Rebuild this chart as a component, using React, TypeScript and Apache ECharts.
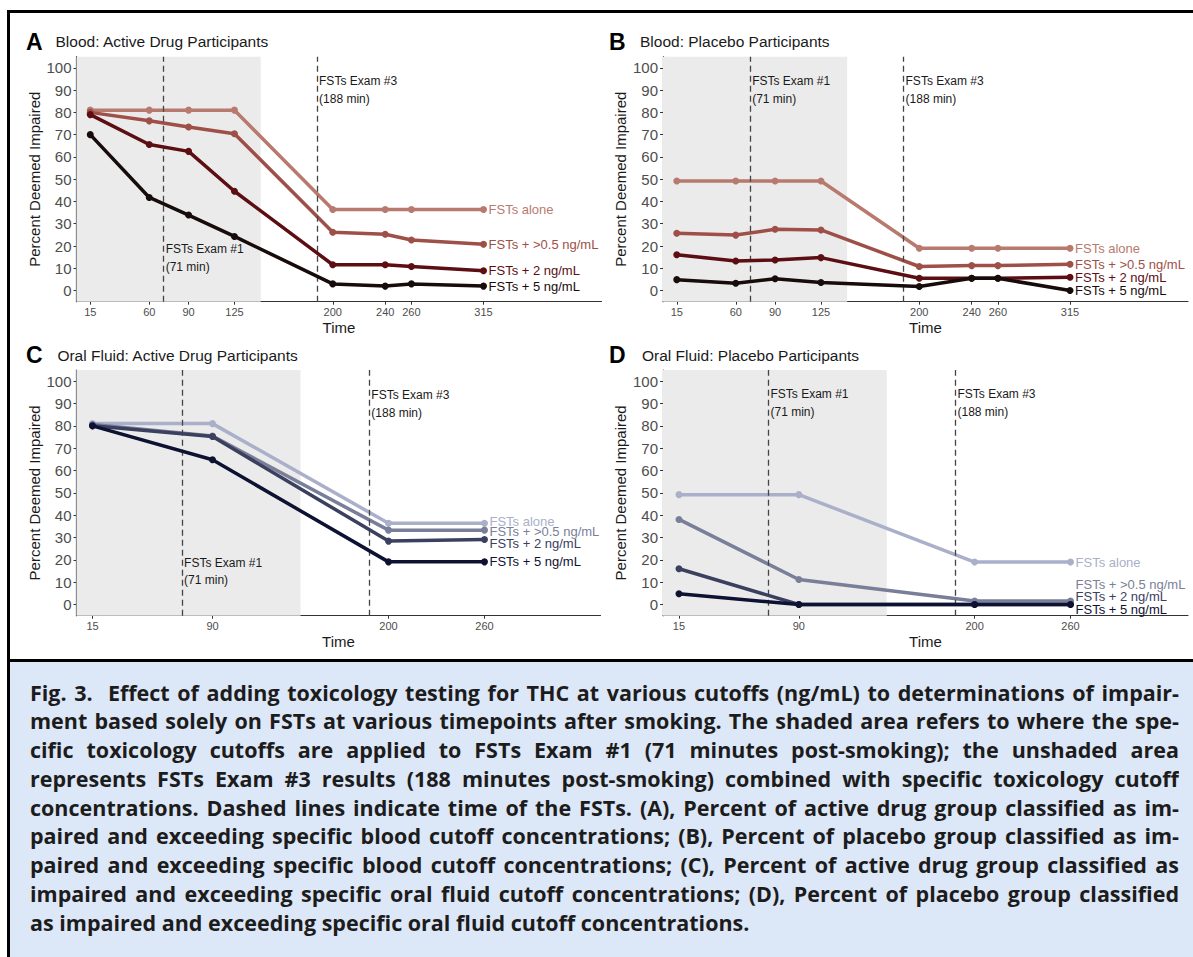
import React, { useEffect, useRef } from 'react';
import * as echarts from 'echarts';

// ---------- data ----------
const timesBlood = [15, 60, 90, 125, 200, 240, 260, 315];
const timesOral = [15, 90, 200, 260];
const yTicks = [0, 10, 20, 30, 40, 50, 60, 70, 80, 90, 100];
const cutoffNames = ['FSTs alone', 'FSTs + >0.5 ng/mL', 'FSTs + 2 ng/mL', 'FSTs + 5 ng/mL'];

const bloodActiveAlone = [81, 81, 81, 81, 36.4, 36.4, 36.4, 36.4];
const bloodActive05 = [80, 76.2, 73.4, 70.4, 26.2, 25.3, 22.7, 20.8];
const bloodActive2 = [79, 65.6, 62.5, 44.6, 11.6, 11.6, 10.8, 8.9];
const bloodActive5 = [70, 41.8, 33.9, 24.3, 3.0, 2.0, 3.0, 2.0];

const bloodPlaceboAlone = [49.2, 49.2, 49.2, 49.2, 19.0, 19.0, 19.0, 19.0];
const bloodPlacebo05 = [25.7, 24.9, 27.5, 27.2, 10.8, 11.2, 11.2, 11.8];
const bloodPlacebo2 = [16.1, 13.3, 13.7, 14.8, 5.5, 5.5, 5.5, 6.0];
const bloodPlacebo5 = [4.9, 3.3, 5.3, 3.6, 1.8, 5.5, 5.5, 0];

const oralActiveAlone = [81, 81, 36.4, 36.4];
const oralActive05 = [80.6, 75.4, 33.3, 33.3];
const oralActive2 = [80, 75.2, 28.4, 29.1];
const oralActive5 = [80, 64.8, 19.1, 19.1];

const oralPlaceboAlone = [49.2, 49.2, 19.0, 19.0];
const oralPlacebo05 = [38.1, 11.2, 1.6, 1.6];
const oralPlacebo2 = [16, 0, 0, 0];
const oralPlacebo5 = [4.8, 0, 0, 0];

const exam1Time = 71;
const exam3Time = 188;
const shadeEnd = 145;

const captionLines = [
  'Fig. 3.\u00a0 Effect of adding toxicology testing for THC at various cutoffs (ng/mL) to determinations of impair-',
  'ment based solely on FSTs at various timepoints after smoking. The shaded area refers to where the spe-',
  'cific toxicology cutoffs are applied to FSTs Exam #1 (71 minutes post-smoking); the unshaded area',
  'represents FSTs Exam #3 results (188 minutes post-smoking) combined with specific toxicology cutoff',
  'concentrations. Dashed lines indicate time of the FSTs. (A), Percent of active drug group classified as im-',
  'paired and exceeding specific blood cutoff concentrations; (B), Percent of placebo group classified as im-',
  'paired and exceeding specific blood cutoff concentrations; (C), Percent of active drug group classified as',
  'impaired and exceeding specific oral fluid cutoff concentrations; (D), Percent of placebo group classified',
  'as impaired and exceeding specific oral fluid cutoff concentrations.',
];

// ---------- styles ----------
const FONT = '"Liberation Sans", Arial, Helvetica, sans-serif';
const bloodColors = ['#b87a6f', '#9e4f48', '#5c0e12', '#170b0b'];
const oralColors = ['#aab0ca', '#7a7f99', '#3b405f', '#0e1232'];

type Panel = {
  letter: string;
  title: string;
  times: number[];
  values: number[][];
  colors: string[];
  grid: { left: number; top: number; width: number; height: number };
  xMin: number;
  xMax: number;
  exam1Y: number;
  exam3Y: number;
  offsets: number[];
  letterX: number;
  titleX: number;
  titleY: number;
};

const panels: Panel[] = [
  {
    letter: 'A', title: 'Blood: Active Drug Participants', times: timesBlood,
    values: [bloodActiveAlone, bloodActive05, bloodActive2, bloodActive5], colors: bloodColors,
    grid: { left: 76.5, top: 56.7, width: 525, height: 245 }, xMin: 4.5, xMax: 405,
    exam1Y: 14.6, exam3Y: 89.9, offsets: [0, 0, 0, 0], letterX: 26, titleX: 55.5, titleY: 41.7,
  },
  {
    letter: 'B', title: 'Blood: Placebo Participants', times: timesBlood,
    values: [bloodPlaceboAlone, bloodPlacebo05, bloodPlacebo2, bloodPlacebo5], colors: bloodColors,
    grid: { left: 663, top: 56.7, width: 525, height: 245 }, xMin: 4.5, xMax: 405,
    exam1Y: 89.9, exam3Y: 89.9, offsets: [0, 0, 0, 0], letterX: 609, titleX: 640, titleY: 41.7,
  },
  {
    letter: 'C', title: 'Oral Fluid: Active Drug Participants', times: timesOral,
    values: [oralActiveAlone, oralActive05, oralActive2, oralActive5], colors: oralColors,
    grid: { left: 76.5, top: 370, width: 524, height: 245.7 }, xMin: 5, xMax: 332.5,
    exam1Y: 14.8, exam3Y: 89.9, offsets: [-2, 1, 3.5, 0], letterX: 26, titleX: 57.4, titleY: 355,
  },
  {
    letter: 'D', title: 'Oral Fluid: Placebo Participants', times: timesOral,
    values: [oralPlaceboAlone, oralPlacebo05, oralPlacebo2, oralPlacebo5], colors: oralColors,
    grid: { left: 663, top: 370, width: 525, height: 245.7 }, xMin: 5, xMax: 333.5,
    exam1Y: 90.2, exam3Y: 90.2, offsets: [0, -16, -7.6, 4.5], letterX: 609, titleX: 642, titleY: 355,
  },
];

function buildOption() {
  const grids: any[] = [];
  const xAxes: any[] = [];
  const yAxes: any[] = [];
  const series: any[] = [];
  const graphics: any[] = [];

  panels.forEach((p, i) => {
    grids.push({ ...p.grid, containLabel: false });
    xAxes.push({
      gridIndex: i, type: 'value', min: p.xMin, max: p.xMax,
      axisLine: { show: true, onZero: false, lineStyle: { color: '#333', width: 1.2 } },
      axisTick: { show: true, length: 3, customValues: p.times, lineStyle: { color: '#333', width: 1 } },
      axisLabel: { customValues: p.times, fontSize: 11, color: '#4d4d4d', fontFamily: FONT, margin: 5 },
      splitLine: { show: false },
      name: 'Time', nameLocation: 'middle', nameGap: 18,
      nameTextStyle: { fontSize: 15, color: '#1a1a1a', fontFamily: FONT },
    });
    yAxes.push({
      gridIndex: i, type: 'value', min: -5, max: 105,
      axisLine: { show: true, onZero: false, lineStyle: { color: '#333', width: 1.2 } },
      axisTick: { show: true, length: 3, customValues: yTicks, lineStyle: { color: '#333', width: 1 } },
      axisLabel: { customValues: yTicks, fontSize: 15, color: '#4d4d4d', fontFamily: FONT, margin: 5 },
      splitLine: { show: false },
      name: 'Percent Deemed Impaired', nameLocation: 'middle', nameGap: 35,
      nameTextStyle: { fontSize: 15, color: '#1a1a1a', fontFamily: FONT },
    });

    // decorations: shaded area, dashed exam lines, exam annotations
    series.push({
      type: 'line', xAxisIndex: i, yAxisIndex: i, z: 1, silent: true,
      data: [[p.times[0], 0]], symbol: 'none', lineStyle: { opacity: 0 },
      markArea: {
        silent: true,
        itemStyle: { color: '#ebebeb' },
        data: [[{ xAxis: p.xMin, yAxis: -5 }, { xAxis: shadeEnd, yAxis: 105 }]],
      },
      markLine: {
        silent: true, symbol: 'none',
        lineStyle: { color: '#444', type: [6, 4], width: 1.3 },
        label: { show: false },
        data: [{ xAxis: exam1Time }, { xAxis: exam3Time }],
      },
      markPoint: {
        silent: true, symbol: 'circle', symbolSize: 0,
        label: {
          show: true, position: 'right', distance: 2, color: '#1a1a1a', fontSize: 12,
          fontFamily: FONT, lineHeight: 17.7, formatter: (d: any) => d.name,
        },
        data: [
          { name: 'FSTs Exam #1\n(71 min)', coord: [exam1Time, p.exam1Y] },
          { name: 'FSTs Exam #3\n(188 min)', coord: [exam3Time, p.exam3Y] },
        ],
      },
    });

    p.values.forEach((vals, k) => {
      series.push({
        type: 'line', name: cutoffNames[k], xAxisIndex: i, yAxisIndex: i, z: 3 + k,
        data: p.times.map((t, j) => [t, vals[j]]),
        symbol: 'circle', symbolSize: 7, showSymbol: true,
        itemStyle: { color: p.colors[k] },
        lineStyle: { color: p.colors[k], width: 3.5 },
        endLabel: {
          show: true, formatter: cutoffNames[k], color: p.colors[k], fontSize: 13,
          fontFamily: FONT, distance: 5, offset: [0, p.offsets[k]],
        },
      });
    });

    graphics.push({
      type: 'text', x: p.letterX, y: p.titleY,
      style: { text: p.letter, fill: '#000', font: `bold 23px ${FONT}`, verticalAlign: 'middle', align: 'left' },
    });
    graphics.push({
      type: 'text', x: p.titleX, y: p.titleY,
      style: { text: p.title, fill: '#1a1a1a', font: `15.5px ${FONT}`, verticalAlign: 'middle', align: 'left' },
    });
  });

  return {
    animation: false,
    backgroundColor: 'transparent',
    grid: grids,
    xAxis: xAxes,
    yAxis: yAxes,
    series,
    graphic: graphics,
  };
}

export default function App() {
  const ref = useRef<HTMLDivElement>(null);
  useEffect(() => {
    if (!ref.current) return;
    const chart = echarts.init(ref.current, null, { renderer: 'svg' });
    chart.setOption(buildOption());
    return () => chart.dispose();
  }, []);

  return (
    <div style={{ position: 'absolute', left: 0, top: 0, width: 1193, height: 957, background: '#fff', overflow: 'hidden' }}>
      <div style={{ position: 'absolute', left: 10, top: 662, width: 1183, height: 295, background: '#dce7f7' }} />
      <div ref={ref} style={{ position: 'absolute', left: 0, top: 0, width: 1193, height: 660 }} />
      <div style={{ position: 'absolute', left: 7, top: 10, width: 1186, height: 947, borderTop: '3px solid #000', borderLeft: '3px solid #000', boxSizing: 'border-box', pointerEvents: 'none' }} />
      <div style={{ position: 'absolute', left: 7, top: 659, width: 1186, height: 3, background: '#000' }} />
      <div style={{ position: 'absolute', left: 30, top: 678.6, width: 1149, fontFamily: '"Open Sans", Lato, sans-serif', fontWeight: 700, fontSize: 21.5, color: '#1c1c1c' }}>
        {captionLines.map((line, i) => (
          <div key={i} style={{ height: 28.75, lineHeight: '28.75px', textAlign: 'justify', textAlignLast: i < captionLines.length - 1 ? 'justify' : 'left', overflow: 'hidden' } as any}>
            {line}
          </div>
        ))}
      </div>
    </div>
  );
}
